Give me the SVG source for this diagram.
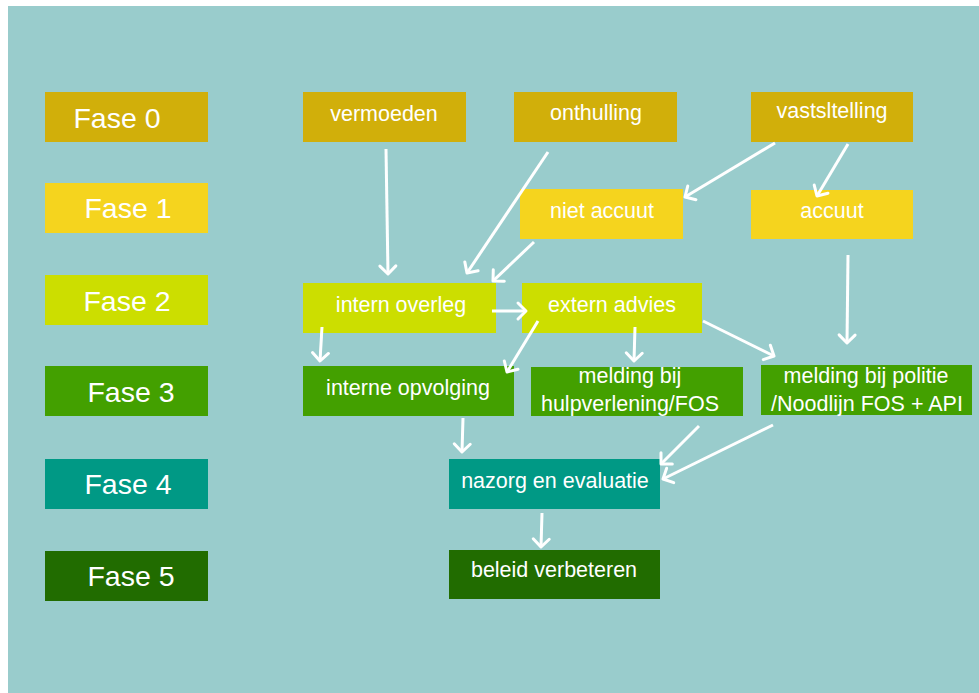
<svg xmlns="http://www.w3.org/2000/svg" width="979" height="693" viewBox="0 0 979 693">
<defs>
<style>
.f0{fill:#D1AF0A}.f1{fill:#F5D41E}.f2{fill:#CCDE00}.f3{fill:#43A000}.f4{fill:#009985}.f5{fill:#216C00}
.ph{font-family:"Liberation Sans",Arial,sans-serif;font-size:28.5px;fill:#FFFFFF;text-anchor:middle}
.nt{font-family:"Liberation Sans",Arial,sans-serif;font-size:21.5px;fill:#FFFFFF;text-anchor:middle}
.cn line{stroke:#FFFFFF;stroke-width:3;fill:none;marker-end:url(#ah)}
</style>
<marker id="ah" markerUnits="userSpaceOnUse" markerWidth="24" markerHeight="24" refX="0" refY="0" viewBox="-12 -12 24 24" orient="auto" overflow="visible">
<path d="M-8,-8 L0,0 L-8,8" fill="none" stroke="#FFFFFF" stroke-width="3" stroke-linecap="round" stroke-linejoin="round"/>
</marker>
</defs>
<rect x="0" y="0" width="979" height="693" fill="#FFFFFF"/>
<rect x="8" y="6" width="971" height="687" fill="#99CCCC"/>

<g id="fase0"><rect class="f0" x="45" y="92" width="163" height="50"/><text class="ph" x="117" y="128">Fase 0</text></g>
<g id="fase1"><rect class="f1" x="45" y="183" width="163" height="50"/><text class="ph" x="128" y="218">Fase 1</text></g>
<g id="fase2"><rect class="f2" x="45" y="275" width="163" height="50"/><text class="ph" x="127" y="311">Fase 2</text></g>
<g id="fase3"><rect class="f3" x="45" y="366" width="163" height="50"/><text class="ph" x="131" y="402">Fase 3</text></g>
<g id="fase4"><rect class="f4" x="45" y="459" width="163" height="50"/><text class="ph" x="128" y="494">Fase 4</text></g>
<g id="fase5"><rect class="f5" x="45" y="551" width="163" height="50"/><text class="ph" x="131" y="586">Fase 5</text></g>

<g id="vermoeden"><rect class="f0" x="303" y="92" width="163" height="50"/><text class="nt" x="384" y="121">vermoeden</text></g>
<g id="onthulling"><rect class="f0" x="514" y="92" width="163" height="50"/><text class="nt" x="596" y="120">onthulling</text></g>
<g id="vastsltelling"><rect class="f0" x="751" y="92" width="162" height="50"/><text class="nt" x="832" y="118">vastsltelling</text></g>
<g id="niet-accuut"><rect class="f1" x="520" y="189" width="163" height="50"/><text class="nt" x="602" y="218">niet accuut</text></g>
<g id="accuut"><rect class="f1" x="751" y="190" width="162" height="49"/><text class="nt" x="832" y="218">accuut</text></g>
<g id="intern-overleg"><rect class="f2" x="303" y="283" width="193" height="50"/><text class="nt" x="401" y="312">intern overleg</text></g>
<g id="extern-advies"><rect class="f2" x="522" y="283" width="180" height="50"/><text class="nt" x="612" y="312">extern advies</text></g>
<g id="interne-opvolging"><rect class="f3" x="303" y="366" width="211" height="50"/><text class="nt" x="408" y="395">interne opvolging</text></g>
<g id="melding-hulpverlening"><rect class="f3" x="531" y="367" width="212" height="49"/><text class="nt" x="630" y="383">melding bij</text><text class="nt" x="630" y="411">hulpverlening/FOS</text></g>
<g id="melding-politie"><rect class="f3" x="761" y="365" width="211" height="50"/><text class="nt" x="866" y="383">melding bij politie</text><text class="nt" x="867" y="411">/Noodlijn FOS + API</text></g>
<g id="nazorg"><rect class="f4" x="449" y="459" width="211" height="50"/><text class="nt" x="555" y="488">nazorg en evaluatie</text></g>
<g id="beleid"><rect class="f5" x="449" y="550" width="211" height="49"/><text class="nt" x="554" y="577">beleid verbeteren</text></g>

<g id="connectors" class="cn">
<line x1="386" y1="149" x2="388" y2="274"/>
<line x1="548" y1="152" x2="467" y2="273"/>
<line x1="534" y1="242" x2="493" y2="281"/>
<line x1="775" y1="143" x2="685" y2="197"/>
<line x1="848" y1="144" x2="817" y2="196"/>
<line x1="492" y1="311" x2="526" y2="311"/>
<line x1="848" y1="255" x2="847" y2="343"/>
<line x1="703" y1="321" x2="774" y2="356"/>
<line x1="635" y1="327" x2="634" y2="361"/>
<line x1="538" y1="321" x2="507" y2="372"/>
<line x1="322" y1="327" x2="320" y2="361"/>
<line x1="463" y1="418" x2="462" y2="452"/>
<line x1="699" y1="426" x2="661" y2="464"/>
<line x1="773" y1="425" x2="663" y2="479"/>
<line x1="542" y1="513" x2="541" y2="547"/>
</g>
</svg>
